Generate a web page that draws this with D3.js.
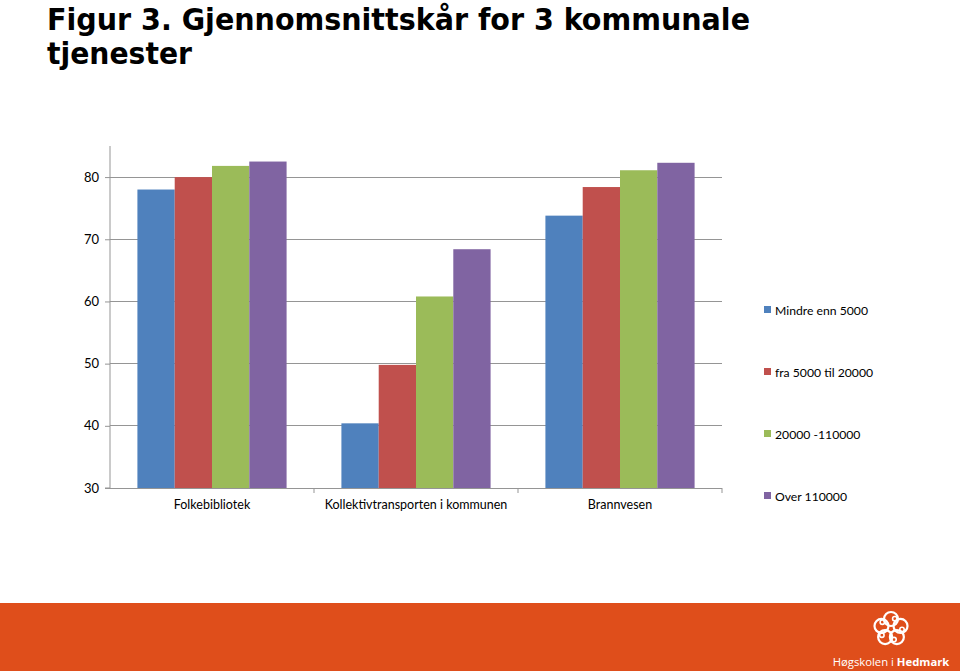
<!DOCTYPE html>
<html><head><meta charset="utf-8">
<script src="https://cdn.jsdelivr.net/npm/d3@7"></script>
<style>
html,body{margin:0;padding:0;background:#fff;}
svg{display:block;}
</style></head>
<body>
<svg id="chart" width="960" height="671"></svg>
<script>
const categories = ["Folkebibliotek", "Kollektivtransporten i kommunen", "Brannvesen"];
const seriesNames = ["Mindre enn 5000", "fra 5000 til 20000", "20000 -110000", "Over 110000"];
const mindreEnn5000 = [78.0, 40.4, 73.8];
const fra5000til20000 = [80.0, 49.8, 78.4];
const fra20000til110000 = [81.8, 60.8, 81.1];
const over110000 = [82.5, 68.4, 82.3];
const yTicks = [30, 40, 50, 60, 70, 80];
const colors = ["#4F81BD", "#C0504D", "#9BBB59", "#8064A2"];

const seriesValues = [mindreEnn5000, fra5000til20000, fra20000til110000, over110000];

const svg = d3.select("#chart");
const plotLeft = 110, plotRight = 722, plotTop = 146, plotBottom = 488;

const x0 = d3.scaleBand().domain(categories).range([plotLeft, plotRight]).paddingInner(0).paddingOuter(0);
const x1 = d3.scaleBand().domain(seriesNames).range([0, x0.bandwidth()]).paddingOuter(0.735).paddingInner(0);
const y = d3.scaleLinear().domain([30, 85]).range([plotBottom, plotTop]);

// Title
const title = svg.append("g").attr("font-family", "'DejaVu Sans Condensed','DejaVu Sans',sans-serif")
  .attr("font-weight", "bold").attr("font-size", 30).attr("fill", "#000");
title.append("text").attr("x", 47).attr("y", 29.5).attr("textLength", 703).attr("lengthAdjust", "spacingAndGlyphs")
  .text("Figur 3. Gjennomsnittskår for 3 kommunale");
title.append("text").attr("x", 47).attr("y", 64).attr("textLength", 145).attr("lengthAdjust", "spacingAndGlyphs")
  .text("tjenester");

// gridlines
svg.append("g").selectAll("line").data(yTicks.filter(d => d > 30)).join("line")
  .attr("x1", plotLeft).attr("x2", plotRight).attr("y1", d => y(d)).attr("y2", d => y(d))
  .attr("stroke", "#959595").attr("stroke-width", 1).attr("shape-rendering", "crispEdges");

// bars
const groups = svg.append("g").selectAll("g").data(categories).join("g")
  .attr("transform", d => `translate(${x0(d)},0)`);
groups.selectAll("rect").data((c, ci) => seriesNames.map((s, si) => ({s, si, v: seriesValues[si][ci]})))
  .join("rect")
  .attr("x", d => x1(d.s)).attr("width", x1.bandwidth())
  .attr("y", d => y(d.v)).attr("height", d => y(30) - y(d.v))
  .attr("fill", d => colors[d.si]);

// y axis
const yAxis = d3.axisLeft(y).tickValues(yTicks).tickSize(5).tickPadding(6);
const ya = svg.append("g").attr("transform", `translate(${plotLeft},0)`).call(yAxis);
ya.select(".domain").attr("stroke", "#959595").attr("d", `M-5,${plotBottom}H0V${plotTop}`);
ya.selectAll(".tick line").attr("stroke", "#959595");
ya.selectAll(".tick text").attr("font-family", "Lato, 'Open Sans', sans-serif").attr("font-size", 13).attr("fill", "#000");

// x axis
const xa = svg.append("g").attr("transform", `translate(0,${plotBottom})`);
xa.append("line").attr("x1", plotLeft).attr("x2", plotRight).attr("y1", 0).attr("y2", 0).attr("stroke", "#959595").attr("shape-rendering", "crispEdges");
const tickPos = categories.map(c => x0(c) + x0.bandwidth());
xa.selectAll("line.tk").data(tickPos).join("line").attr("class", "tk")
  .attr("x1", d => d).attr("x2", d => d).attr("y1", 0).attr("y2", 5).attr("stroke", "#959595");
xa.selectAll("text").data(categories).join("text")
  .attr("x", d => x0(d) + x0.bandwidth() / 2).attr("y", 21)
  .attr("text-anchor", "middle").attr("font-family", "Lato, 'Open Sans', sans-serif").attr("font-size", 12.5).attr("fill", "#000")
  .text(d => d);

// legend
const legY = [310, 372, 434, 496];
const leg = svg.append("g").selectAll("g").data(seriesNames).join("g")
  .attr("transform", (d, i) => `translate(764,${legY[i]})`);
leg.append("rect").attr("x", 0).attr("y", -4).attr("width", 7).attr("height", 7).attr("fill", (d, i) => colors[i]);
leg.append("text").attr("x", 11).attr("y", 4.5).attr("font-family", "Lato, 'Open Sans', sans-serif").attr("font-size", 12.2).attr("fill", "#000").text(d => d);

// bottom band
svg.append("rect").attr("x", 0).attr("y", 603).attr("width", 960).attr("height", 68).attr("fill", "#DF4E1B");
const logo = svg.append("g").attr("transform", "translate(891,629)").attr("fill", "none").attr("stroke", "#fff").attr("stroke-width", 2.2);
d3.range(5).forEach(i => {
  const a = -Math.PI / 2 + i * 2 * Math.PI / 5;
  logo.append("circle").attr("cx", 10 * Math.cos(a)).attr("cy", 10 * Math.sin(a)).attr("r", 7);
  logo.append("circle").attr("cx", 11 * Math.cos(a + 0.35)).attr("cy", 11 * Math.sin(a + 0.35)).attr("r", 2.2).attr("stroke-width", 1.6);
});
const lt = svg.append("text").attr("x", 891).attr("y", 666).attr("text-anchor", "middle")
  .attr("font-family", "'Open Sans', 'Liberation Sans', sans-serif").attr("font-size", 11.3).attr("fill", "#fff");
lt.append("tspan").text("Høgskolen i ");
lt.append("tspan").attr("font-weight", "bold").text("Hedmark");
</script>
</body></html>
